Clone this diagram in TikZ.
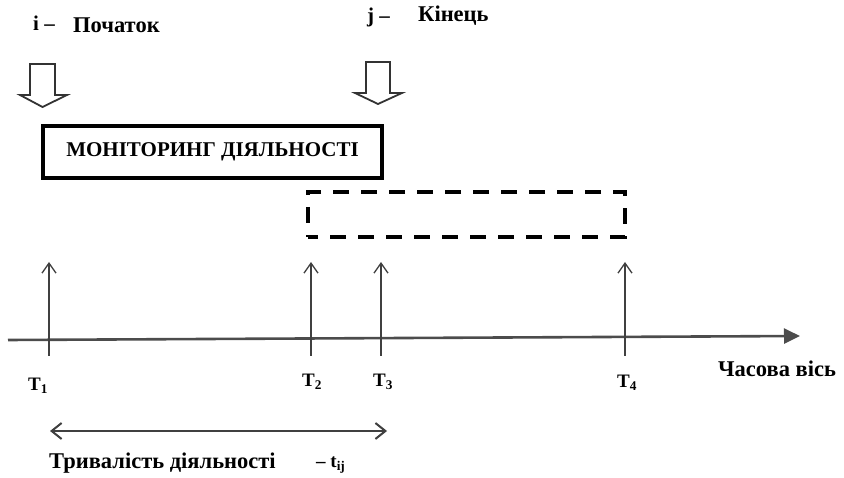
\documentclass[tikz,border=0pt]{standalone}
\usepackage{fontspec}
\setmainfont{Liberation Serif}
\usetikzlibrary{arrows.meta}
\begin{document}
\begin{tikzpicture}[x=1pt,y=-1pt,
  lbl/.style={font=\fontsize{22.5}{26}\selectfont\bfseries, inner sep=0pt, anchor=west},
  tlbl/.style={font=\fontsize{19}{22}\selectfont\bfseries, inner sep=0pt},
  hollow/.style={draw=black!80, line width=1.8pt, fill=white, line join=miter},
  solidbox/.style={draw=black, line width=4.5pt, minimum width=339pt, minimum height=52pt, inner sep=0pt,
    font=\fontsize{21}{24}\selectfont\bfseries},
  dashbox/.style={draw=black, line width=4pt, dash pattern=on 16pt off 12pt, dash phase=6pt,
    minimum width=317pt, minimum height=45pt, inner sep=0pt},
  tick/.style={draw=black!75, line width=1.3pt, -{Straight Barb[length=10pt,width=14pt,line width=1.3pt]}},
  axis/.style={draw=black!70, line width=2.6pt, -{Triangle[length=16pt,width=15pt]}},
  span/.style={draw=black!75, line width=2pt, {Straight Barb[length=10pt,width=16pt]}-{Straight Barb[length=10pt,width=16pt]}}
]
\useasboundingbox (0,0) rectangle (844,478);

% event labels
\node[lbl, font=\fontsize{21}{24}\selectfont\bfseries] (iname) at (33,23) {i –};
\node[lbl] (start) at (73,25) {Початок};
\node[lbl, font=\fontsize{21}{24}\selectfont\bfseries] (jname) at (367,17) {j –};
\node[lbl] (finish) at (418,16) {Кінець};

% hollow block arrows marking start and end
\path[hollow] (30,64) -- (55,64) -- (55,95) -- (67,95) -- (42.5,107) -- (20,95) -- (30,95) -- cycle;
\path[hollow] (366,62) -- (390,62) -- (390,93) -- (402,93) -- (378,104) -- (355,93) -- (366,93) -- cycle;

% activity boxes
\node[solidbox] (mon) at (212.5,152) {МОНІТОРИНГ ДІЯЛЬНОСТІ};
\node[dashbox] (next) at (466.5,214.5) {};

% time axis
\coordinate (a0) at (8,340);
\coordinate (a1) at (800,336);
\draw[axis] (a0) -- (a1);

% moments on the axis
\foreach \n/\x in {1/49,2/311,3/381,4/625}{
  \coordinate (b\n) at (\x,356);
  \coordinate (t\n) at (\x,262);
  \draw[tick] (b\n) -- (t\n);
}
\node[tlbl] (T1) at (38,386) {T\textsubscript{1}};
\node[tlbl] (T2) at (312,382) {T\textsubscript{2}};
\node[tlbl] (T3) at (383,382) {T\textsubscript{3}};
\node[tlbl] (T4) at (627,383) {T\textsubscript{4}};
\node[lbl] (axname) at (718,369) {Часова вісь};

% duration of the activity
\coordinate (d0) at (50,431);
\coordinate (d1) at (387,431);
\draw[span] (d0) -- (d1);
\node[lbl] (dur) at (49,463) {Тривалість діяльності};
\node[lbl, font=\fontsize{19}{22}\selectfont\bfseries] (tij) at (316,465) {– t\textsubscript{ij}};
\end{tikzpicture}
\end{document}
